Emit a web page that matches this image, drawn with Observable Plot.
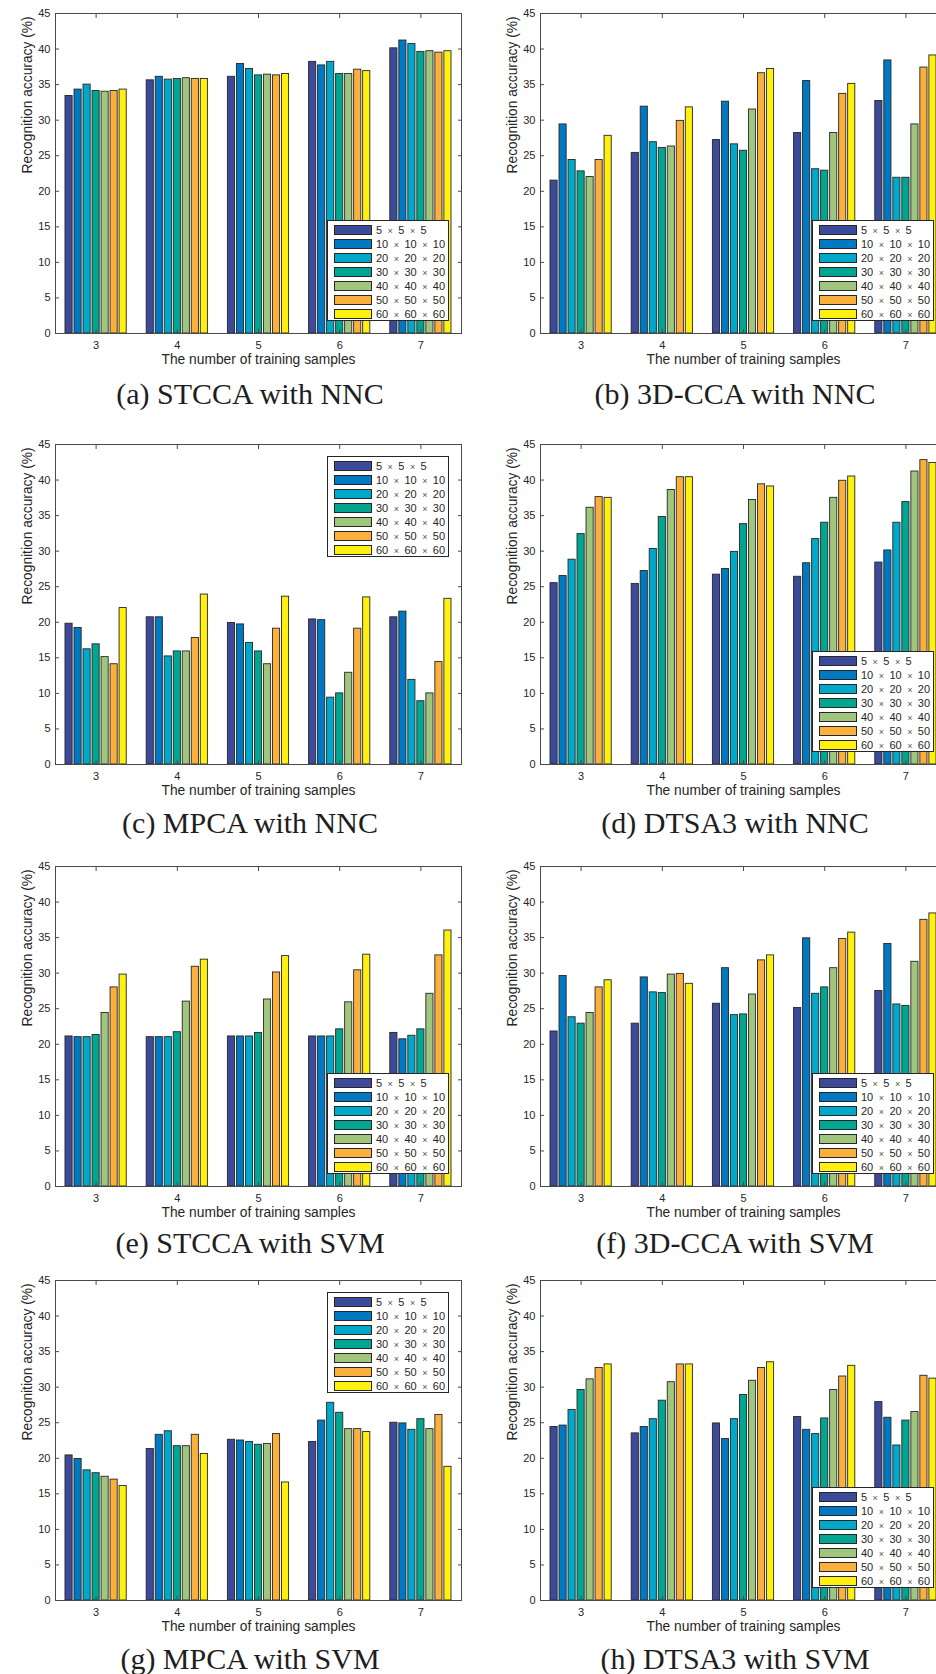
<!DOCTYPE html>
<html>
<head>
<meta charset="utf-8">
<script src="https://cdn.jsdelivr.net/npm/d3@7"></script>
<script src="https://cdn.jsdelivr.net/npm/@observablehq/plot@0.6"></script>
<style>
  html, body { margin: 0; padding: 0; background: #fff; }
  #root { position: relative; width: 936px; height: 1674px; overflow: hidden; background: #fff; }
  .panel { position: absolute; }
  .panel svg { max-width: none !important; }
  .legend { position: absolute; background: #fff; border: 1px solid #262626; box-sizing: border-box;
            font-family: "Liberation Sans", Arial, sans-serif; font-size: 11px; color: #262626; }
  .legend .row { position: absolute; left: 0; height: 10px; }
  .legend .sw { position: absolute; width: 38px; height: 10px; box-sizing: border-box; border: 1px solid #262626; }
  .legend .lab { position: absolute; left: 48px; top: -2px; line-height: 14px; white-space: nowrap; word-spacing: 2.4px; }
  .legend .times { font-size: 9px; color: #555; }
  .caption { position: absolute; transform: translate(-50%, -50%); white-space: nowrap;
             font-family: "Liberation Serif", "Times New Roman", serif; font-size: 30px; color: #1e1e1e; }
</style>
</head>
<body>
<div id="root"></div>
<script>
// ---------------- data ----------------
const groups = [3, 4, 5, 6, 7];
const seriesNames = ["5 × 5 × 5", "10 × 10 × 10", "20 × 20 × 20", "30 × 30 × 30",
                     "40 × 40 × 40", "50 × 50 × 50", "60 × 60 × 60"];
const seriesColors = ["#3d4a9a", "#0079c2", "#00a8c9", "#00a68f", "#a0c67e", "#fbb03b", "#fff00f"];
const yTicks = [0, 5, 10, 15, 20, 25, 30, 35, 40, 45];
const xLabel = "The number of training samples";
const yLabel = "Recognition accuracy (%)";

// rows = training samples (3..7), columns = series (5x5x5 ... 60x60x60)
const stccaNNC = [
  [33.4, 34.3, 35.0, 34.1, 34.0, 34.1, 34.3],
  [35.6, 36.1, 35.7, 35.8, 35.9, 35.8, 35.8],
  [36.1, 37.9, 37.2, 36.3, 36.4, 36.3, 36.5],
  [38.2, 37.7, 38.2, 36.5, 36.5, 37.1, 36.9],
  [40.1, 41.2, 40.7, 39.6, 39.7, 39.5, 39.7]
];
const cca3dNNC = [
  [21.5, 29.4, 24.4, 22.8, 22.0, 24.4, 27.8],
  [25.4, 31.9, 26.9, 26.1, 26.3, 29.9, 31.8],
  [27.2, 32.6, 26.6, 25.7, 31.5, 36.6, 37.2],
  [28.2, 35.5, 23.1, 22.9, 28.2, 33.7, 35.1],
  [32.7, 38.4, 21.9, 21.9, 29.4, 37.4, 39.1]
];
const mpcaNNC = [
  [19.8, 19.2, 16.2, 16.9, 15.1, 14.1, 22.0],
  [20.7, 20.7, 15.2, 15.9, 15.9, 17.8, 23.9],
  [19.9, 19.7, 17.1, 15.9, 14.1, 19.1, 23.6],
  [20.4, 20.3, 9.4, 10.0, 12.9, 19.1, 23.5],
  [20.7, 21.5, 11.9, 8.9, 10.0, 14.4, 23.3]
];
const dtsa3NNC = [
  [25.5, 26.5, 28.8, 32.4, 36.1, 37.6, 37.5],
  [25.4, 27.2, 30.3, 34.8, 38.6, 40.4, 40.4],
  [26.7, 27.5, 29.9, 33.8, 37.2, 39.4, 39.1],
  [26.4, 28.3, 31.7, 34.0, 37.5, 39.9, 40.5],
  [28.4, 30.1, 34.0, 36.9, 41.2, 42.8, 42.4]
];
const stccaSVM = [
  [21.1, 21.0, 21.0, 21.3, 24.4, 28.0, 29.8],
  [21.0, 21.0, 21.0, 21.7, 26.0, 30.9, 31.9],
  [21.1, 21.1, 21.1, 21.6, 26.3, 30.1, 32.4],
  [21.1, 21.1, 21.1, 22.1, 25.9, 30.4, 32.6],
  [21.6, 20.7, 21.2, 22.1, 27.1, 32.5, 36.0]
];
const cca3dSVM = [
  [21.8, 29.6, 23.8, 22.9, 24.4, 28.0, 29.0],
  [22.9, 29.4, 27.3, 27.2, 29.8, 29.9, 28.5],
  [25.7, 30.7, 24.1, 24.2, 27.0, 31.8, 32.5],
  [25.1, 34.9, 27.1, 28.0, 30.7, 34.8, 35.7],
  [27.5, 34.1, 25.6, 25.4, 31.6, 37.5, 38.4]
];
const mpcaSVM = [
  [20.4, 19.9, 18.3, 17.9, 17.4, 17.0, 16.1],
  [21.3, 23.3, 23.8, 21.7, 21.7, 23.3, 20.6],
  [22.6, 22.5, 22.3, 21.9, 22.0, 23.4, 16.6],
  [22.3, 25.3, 27.8, 26.4, 24.1, 24.1, 23.7],
  [25.0, 24.9, 24.0, 25.5, 24.1, 26.1, 18.8]
];
const dtsa3SVM = [
  [24.4, 24.6, 26.8, 29.6, 31.1, 32.7, 33.2],
  [23.5, 24.4, 25.5, 28.1, 30.7, 33.2, 33.2],
  [24.9, 22.7, 25.5, 28.9, 30.9, 32.7, 33.5],
  [25.8, 24.0, 23.4, 25.6, 29.6, 31.5, 33.0],
  [27.9, 25.7, 21.8, 25.3, 26.5, 31.6, 31.2]
];

const panelTitles = ["(a) STCCA with NNC", "(b) 3D-CCA with NNC", "(c) MPCA with NNC", "(d) DTSA3 with NNC",
                     "(e) STCCA with SVM", "(f) 3D-CCA with SVM", "(g) MPCA with SVM", "(h) DTSA3 with SVM"];
const panelValues = [stccaNNC, cca3dNNC, mpcaNNC, dtsa3NNC, stccaSVM, cca3dSVM, mpcaSVM, dtsa3SVM];
const legendAtTop = [false, false, true, false, false, false, true, false];

// ---------------- layout ----------------
const colLeft = [0, 485];
const rowAxisTop = [13.3, 444, 866, 1280];
const captionY = [394, 823, 1243, 1659];
const MT = 10, MB = 45, ML = 55, MR = 10, PW = 406, PH = 320;
const PITCH = 0.111, BW = 0.088;

const root = document.getElementById("root");

panelValues.forEach((vals, p) => {
  const col = p % 2, row = Math.floor(p / 2);
  const rows = [];
  vals.forEach((arr, gi) => arr.forEach((v, si) => rows.push({g: groups[gi], s: seriesNames[si], i: si, v})));

  const W = ML + PW + MR, H = MT + PH + MB;
  const chart = Plot.plot({
    width: W,
    height: H,
    marginTop: MT, marginBottom: MB, marginLeft: ML, marginRight: MR,
    style: {fontFamily: "'Liberation Sans', Arial, sans-serif", fontSize: "11px", color: "#262626", background: "transparent", overflow: "visible"},
    x: {domain: [2.5, 7.5]},
    y: {domain: [0, 45]},
    color: {domain: seriesNames, range: seriesColors},
    marks: [
      Plot.rect(rows, {
        x1: d => d.g + (d.i - 3) * PITCH - BW / 2,
        x2: d => d.g + (d.i - 3) * PITCH + BW / 2,
        y1: 0, y2: "v", fill: "s", stroke: "#262626", strokeWidth: 0.9
      }),
      Plot.frame({stroke: "#4a4a4a", strokeWidth: 1}),
      Plot.axisY(yTicks, {anchor: "left", tickSize: -4, tickPadding: 9, label: null, stroke: "#4a4a4a"}),
      Plot.axisY(yTicks, {anchor: "right", tickSize: -4, tickFormat: () => "", label: null, stroke: "#4a4a4a"}),
      Plot.axisX(groups, {anchor: "bottom", tickSize: -4, tickPadding: 12, label: null, stroke: "#4a4a4a"}),
      Plot.axisX(groups, {anchor: "top", tickSize: -4, tickFormat: () => "", label: null, stroke: "#4a4a4a"}),
      Plot.text([xLabel], {text: d => d, frameAnchor: "bottom", dy: 30, fontSize: 13.8, fill: "#262626"}),
      Plot.text([yLabel], {text: d => d, frameAnchor: "left", rotate: -90, dx: -28, fontSize: 13.8, fill: "#262626"})
    ]
  });
  chart.style.maxWidth = "none";
  chart.style.width = W + "px";
  chart.style.height = H + "px";

  const panel = document.createElement("div");
  panel.className = "panel";
  panel.style.left = colLeft[col] + "px";
  panel.style.top = (rowAxisTop[row] - MT) + "px";
  panel.style.width = W + "px";
  panel.style.height = H + "px";
  panel.appendChild(chart);

  // legend (inside the axes, MATLAB style)
  const lg = document.createElement("div");
  lg.className = "legend";
  lg.style.left = "327px";
  lg.style.width = "122px";
  lg.style.height = "101px";
  lg.style.top = (legendAtTop[p] ? MT + 12 : MT + PH - 12 - 101) + "px";
  seriesNames.forEach((name, si) => {
    const r = document.createElement("div");
    r.className = "row";
    r.style.top = (3.5 + si * 14) + "px";
    const sw = document.createElement("div");
    sw.className = "sw";
    sw.style.left = "6px";
    sw.style.background = seriesColors[si];
    const lab = document.createElement("div");
    lab.className = "lab";
    name.split("×").forEach((part, k) => {
      if (k > 0) {
        const t = document.createElement("span");
        t.className = "times";
        t.textContent = "×";
        lab.appendChild(t);
      }
      lab.appendChild(document.createTextNode(part));
    });
    r.appendChild(sw);
    r.appendChild(lab);
    lg.appendChild(r);
  });
  panel.appendChild(lg);
  root.appendChild(panel);

  const cap = document.createElement("div");
  cap.className = "caption";
  cap.textContent = panelTitles[p];
  cap.style.left = (colLeft[col] + 250) + "px";
  cap.style.top = captionY[row] + "px";
  root.appendChild(cap);
});
</script>
</body>
</html>
